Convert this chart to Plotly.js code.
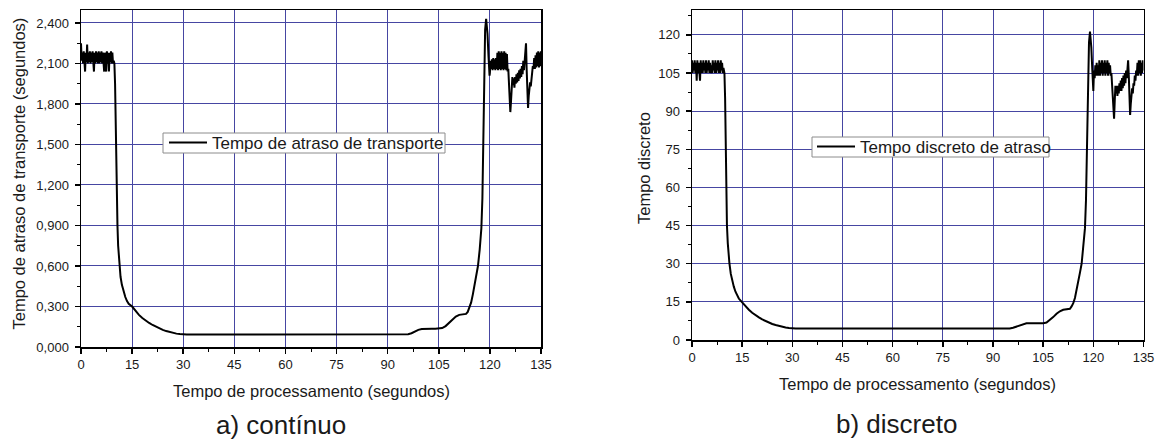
<!DOCTYPE html>
<html>
<head>
<meta charset="utf-8">
<script src="https://cdn.plot.ly/plotly-3.0.1.min.js"></script>
<style>html,body{margin:0;padding:0;background:#fff;}#chart{width:1156px;height:439px;}</style>
</head>
<body>
<div id="chart"></div>
<script>
// ---------- a) contínuo : tempo de atraso de transporte (s) ----------
var contStartX = [0,0.2,0.4,0.6,0.8,1.0,1.2,1.4,1.6,1.8,2.0,2.2,2.4,2.6,2.8,3.0,3.2,3.4,3.6,3.8,4.0,4.2,4.4,4.6,4.8,5.0,5.2,5.4,5.6,5.8,6.0,6.2,6.4,6.6,6.8,7.0,7.2,7.4,7.6,7.8,8.0,8.2,8.4,8.6,8.8,9.0,9.2,9.4,9.6,9.8];
var contStartY = [2.25,2.12,2.18,2.10,2.19,2.10,2.04,2.18,2.11,2.24,2.10,2.18,2.11,2.19,2.10,2.18,2.11,2.19,2.10,2.04,2.18,2.10,2.19,2.11,2.18,2.10,2.19,2.10,2.18,2.11,2.19,2.10,2.18,2.10,2.04,2.18,2.11,2.04,2.19,2.10,2.18,2.04,2.18,2.11,2.19,2.10,2.18,2.10,2.12,2.10];
var contMidX = [10.0,10.1,10.2,10.35,10.5,10.7,10.9,11.2,11.6,12,12.5,13,13.5,14,15,16,17,18,19,20,21,22,23,24,25,26,27,28,29,30,31,40,50,60,70,80,90,95,96,97,98,99,100,101,102,103,104,105,106,107,108,109,110,111,112,113,113.5,114,114.5,115,115.5,116,116.5,117,117.5,117.8,118.0,118.2,118.4,118.6,118.9,119.1,119.3,119.6,119.9];
var contMidY = [1.95,1.75,1.5,1.25,1.05,0.9,0.75,0.62,0.52,0.46,0.41,0.37,0.34,0.32,0.30,0.265,0.238,0.215,0.195,0.178,0.163,0.15,0.138,0.127,0.118,0.11,0.104,0.099,0.096,0.094,0.093,0.093,0.093,0.093,0.093,0.093,0.093,0.093,0.095,0.102,0.115,0.127,0.133,0.135,0.135,0.135,0.135,0.136,0.14,0.155,0.18,0.205,0.225,0.238,0.242,0.245,0.26,0.29,0.33,0.39,0.46,0.53,0.60,0.72,0.88,1.1,1.4,1.8,2.2,2.35,2.43,2.38,2.32,2.15,2.01];
var contEndX = [120.0,120.2,120.4,120.6,120.8,121.0,121.2,121.4,121.6,121.8,122.0,122.2,122.4,122.6,122.8,123.0,123.2,123.4,123.6,123.8,124.0,124.2,124.4,124.6,124.8,125.0,125.2,125.4,125.6,125.8,126.0,126.2,126.4,126.6,126.8,127.0,127.2,127.4,127.6,127.8,128.0,128.2,128.4,128.6,128.8,129.0,129.2,129.4,129.6,129.8,130.0,130.2,130.4,130.6,130.8,131.0,131.2,131.4,131.6,131.8,132.0,132.2,132.4,132.6,132.8,133.0,133.2,133.4,133.6,133.8,134.0,134.2,134.4,134.6,134.8,135.0];
var contEndY = [2.03,2.12,2.06,2.13,2.05,2.14,2.06,2.13,2.05,2.14,2.06,2.18,2.05,2.19,2.06,2.18,2.05,2.19,2.06,2.18,2.05,2.19,2.06,2.18,2.05,2.17,2.04,2.06,1.98,1.85,1.74,1.82,1.95,2.00,1.94,1.99,1.92,2.00,1.95,2.02,1.96,2.03,1.97,2.05,1.99,2.06,2.00,2.08,2.02,2.12,2.05,2.14,2.20,2.25,2.05,1.85,1.77,1.86,1.90,1.96,1.93,2.00,2.03,2.08,2.06,2.14,2.06,2.16,2.07,2.18,2.08,2.19,2.07,2.18,2.08,2.19];

// ---------- b) discreto : tempo discreto de atraso ----------
var discStartX = [0,0.2,0.4,0.6,0.8,1.0,1.2,1.4,1.6,1.8,2.0,2.2,2.4,2.6,2.8,3.0,3.2,3.4,3.6,3.8,4.0,4.2,4.4,4.6,4.8,5.0,5.2,5.4,5.6,5.8,6.0,6.2,6.4,6.6,6.8,7.0,7.2,7.4,7.6,7.8,8.0,8.2,8.4,8.6,8.8,9.0,9.2,9.4,9.6];
var discStartY = [110,105,109,106,110,105,109,102,110,105,109,106,102,110,105,109,105,110,106,109,105,110,105,109,106,110,105,109,105,108,105,110,106,109,105,110,105,109,106,110,105,109,105,110,106,109,105,107,106];
var discMidX = [9.7,9.9,10.1,10.3,10.45,10.7,11.0,11.2,11.6,12,12.5,13,13.5,14,15,16,17,18,19,20,21,22,23,24,25,26,27,28,29,30,31,40,50,60,70,80,90,95,96,97,98,99,100,101,102,103,104,105,106,107,108,109,110,111,112,113,113.5,114,114.5,115,115.5,116,116.5,117,117.5,117.8,118.0,118.2,118.4,118.7,119.0,119.2,119.4,119.7,120.0];
var discMidY = [105,95,75,55,45,38,32.5,30,26,23.5,21,19,17.5,16.3,14.8,13.2,11.9,10.7,9.7,8.9,8.1,7.4,6.8,6.3,5.9,5.5,5.2,4.9,4.7,4.6,4.5,4.5,4.5,4.5,4.5,4.5,4.5,4.5,4.8,5.3,5.9,6.4,6.6,6.6,6.6,6.6,6.6,6.6,6.9,7.8,9.0,10.3,11.3,11.9,12.1,12.3,13.2,14.5,16.5,19.5,23,26.5,30,36,44,55,70,90,110,117,121.3,119,115,106,98];
var discEndX = [120.2,120.4,120.6,120.8,121.0,121.2,121.4,121.6,121.8,122.0,122.2,122.4,122.6,122.8,123.0,123.2,123.4,123.6,123.8,124.0,124.2,124.4,124.6,124.8,125.0,125.2,125.4,125.6,125.8,126.0,126.2,126.4,126.6,126.8,127.0,127.2,127.4,127.6,127.8,128.0,128.2,128.4,128.6,128.8,129.0,129.2,129.4,129.6,129.8,130.0,130.2,130.4,130.6,130.8,131.0,131.2,131.4,131.6,131.8,132.0,132.2,132.4,132.6,132.8,133.0,133.2,133.4,133.6,133.8,134.0,134.2,134.4,134.6,134.8,135.0];
var discEndY = [106,103,108,104,109,104,108,104,110,104,109,105,110,104,109,105,110,104,109,105,110,104,109,105,108,104,105,101,95,90,87,94,100,97,100,96,100,97,101,98,102,98,103,99,104,100,105,101,106,103,107,110,104,96,88.5,93,96,99,97,101,100,104,102,106,104,109,104,110,105,110,104,109,105,110,106];

// ---------- labels ----------
var contName = 'Tempo de atraso de transporte';
var discName = 'Tempo discreto de atraso';
var xTitle = 'Tempo de processamento (segundos)';
var yTitleA = 'Tempo de atraso de transporte (segundos)';
var yTitleB = 'Tempo discreto';
var captionA = 'a) contínuo';
var captionB = 'b) discreto';

var contX = contStartX.concat(contMidX, contEndX);
var contY = contStartY.concat(contMidY, contEndY);
var discX = discStartX.concat(discMidX, discEndX);
var discY = discStartY.concat(discMidY, discEndY);

var W = 1156, H = 439;
var FONT = 'Liberation Sans, Arial, Helvetica, sans-serif';
var TXT = '#1a1a1a';
var GRID = '#4646a2';

function px(x){ return x / W; }
function py(y){ return 1 - y / H; }

var traces = [
  {x: contX, y: contY, type: 'scatter', mode: 'lines', name: contName,
   line: {color: '#000', width: 2}, xaxis: 'x', yaxis: 'y', legend: 'legend'},
  {x: discX, y: discY, type: 'scatter', mode: 'lines', name: discName,
   line: {color: '#000', width: 2}, xaxis: 'x2', yaxis: 'y2', legend: 'legend2'}
];

function xa(domain, anchor){
  return {domain: domain, anchor: anchor, range: [0, 135], dtick: 15, tick0: 0,
    ticks: 'outside', ticklen: 5, tickwidth: 1.5, tickcolor: '#000',
    showline: true, linecolor: '#000', linewidth: 1.5, mirror: true,
    showgrid: true, gridcolor: GRID, gridwidth: 1, zeroline: false,
    minor: {ticks: 'outside', ticklen: 3, dtick: 7.5, tick0: 0, tickcolor: '#000', tickwidth: 1, showgrid: false},
    tickfont: {family: FONT, size: 13, color: TXT}, fixedrange: true};
}
function ya(domain, anchor, range, dtick, minorD, fmt){
  var a = {domain: domain, anchor: anchor, range: range, dtick: dtick, tick0: 0,
    ticks: 'outside', ticklen: 5, tickwidth: 1.5, tickcolor: '#000', ticklabelstandoff: 3,
    showline: true, linecolor: '#000', linewidth: 1.5, mirror: true,
    showgrid: true, gridcolor: GRID, gridwidth: 1, zeroline: false,
    minor: {ticks: 'outside', ticklen: 3, dtick: minorD, tick0: 0, tickcolor: '#000', tickwidth: 1, showgrid: false},
    tickfont: {family: FONT, size: 13, color: TXT}, fixedrange: true};
  if (fmt) a.tickformat = fmt;
  return a;
}

function ann(text, x, y, size, angle){
  return {text: text, x: px(x), y: py(y), xref: 'paper', yref: 'paper',
    xanchor: 'center', yanchor: 'middle', showarrow: false, textangle: angle || 0,
    font: {family: FONT, size: size, color: TXT}};
}
function box(x0, x1, y0, y1){
  return {type: 'rect', xref: 'paper', yref: 'paper', x0: px(x0), x1: px(x1), y0: py(y1), y1: py(y0),
    fillcolor: '#fff', line: {color: '#8c8c8c', width: 1}, layer: 'above'};
}
function leg(x, y){
  return {x: px(x), y: py(y), xanchor: 'left', yanchor: 'middle',
    bgcolor: 'rgba(0,0,0,0)', borderwidth: 0, itemwidth: 38,
    font: {family: FONT, size: 17, color: TXT}};
}

var layout = {
  width: W, height: H,
  margin: {l: 0, r: 0, t: 0, b: 0},
  paper_bgcolor: '#fff', plot_bgcolor: '#fff',
  separators: ',.',
  showlegend: true,
  xaxis: xa([px(81), px(541)], 'y'),
  yaxis: ya([py(347), py(10)], 'x', [0, 2.496], 0.3, 0.15, '.3f'),
  xaxis2: xa([px(692), px(1143.5)], 'y2'),
  yaxis2: ya([py(340), py(10)], 'x2', [0, 129.8], 15, 7.5),
  legend: leg(164, 143),
  legend2: leg(812, 147),
  shapes: [box(163, 445, 133, 153), box(812, 1049, 137, 157)],
  annotations: [
    ann(xTitle, 311, 391, 16.5),
    ann(xTitle, 917.5, 384, 16.5),
    ann(yTitleA, 18, 173.5, 16.5, -90),
    ann(yTitleB, 644, 168, 16.5, -90),
    ann(captionA, 281, 425, 26),
    ann(captionB, 896, 424, 26)
  ]
};

Plotly.newPlot('chart', traces, layout, {displayModeBar: false, staticPlot: true});
</script>
</body>
</html>
